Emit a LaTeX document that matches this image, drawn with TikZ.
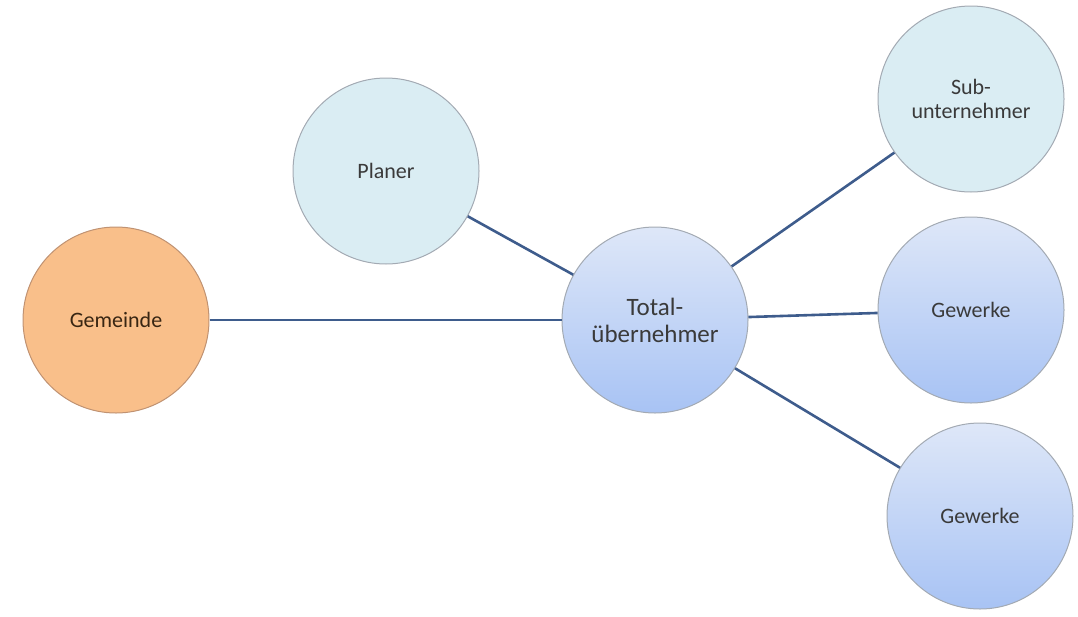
\documentclass[tikz,border=0pt]{standalone}
\usepackage{fontspec}
\setmainfont{Carlito}
\definecolor{linec}{HTML}{3E5C8C}
\definecolor{orangefill}{HTML}{F9BF8A}
\definecolor{orangedraw}{HTML}{C09272}
\definecolor{paleblue}{HTML}{DAEDF3}
\definecolor{gradtop}{HTML}{DEE7F8}
\definecolor{gradbot}{HTML}{A8C3F4}
\definecolor{circdraw}{HTML}{A3AAB3}
\definecolor{txt}{HTML}{3A3A3A}
\tikzset{
  bubble/.style={circle, minimum size=186pt, inner sep=0pt, line width=1pt, draw=circdraw, align=center, text=txt, font=\fontsize{22}{24}\selectfont},
  orangebubble/.style={bubble, fill=orangefill, draw=orangedraw, text={black!70!brown}},
  palebubble/.style={bubble, fill=paleblue},
  gradbubble/.style={bubble, top color=gradtop, bottom color=gradbot},
  link/.style={draw=linec, line width=2.6pt}
}
\begin{document}
\begin{tikzpicture}[x=1pt,y=-1pt]
\useasboundingbox (0,0) rectangle (1078,616);
\node[orangebubble] (gem) at (116,320) {Gemeinde};
\node[palebubble] (plan) at (386,171) {Planer};
\node[gradbubble, font=\fontsize{25}{27}\selectfont] (tot) at (655,320) {Total-\\übernehmer};
\node[palebubble] (sub) at (971,99) {Sub-\\unternehmer};
\node[gradbubble] (gw1) at (971,310) {Gewerke};
\node[gradbubble] (gw2) at (980,516) {Gewerke};
\draw[link] (gem) -- (tot);
\draw[link] (plan) -- (tot);
\draw[link] (tot) -- (sub);
\draw[link] (tot) -- (gw1);
\draw[link] (tot) -- (gw2);
\end{tikzpicture}
\end{document}
